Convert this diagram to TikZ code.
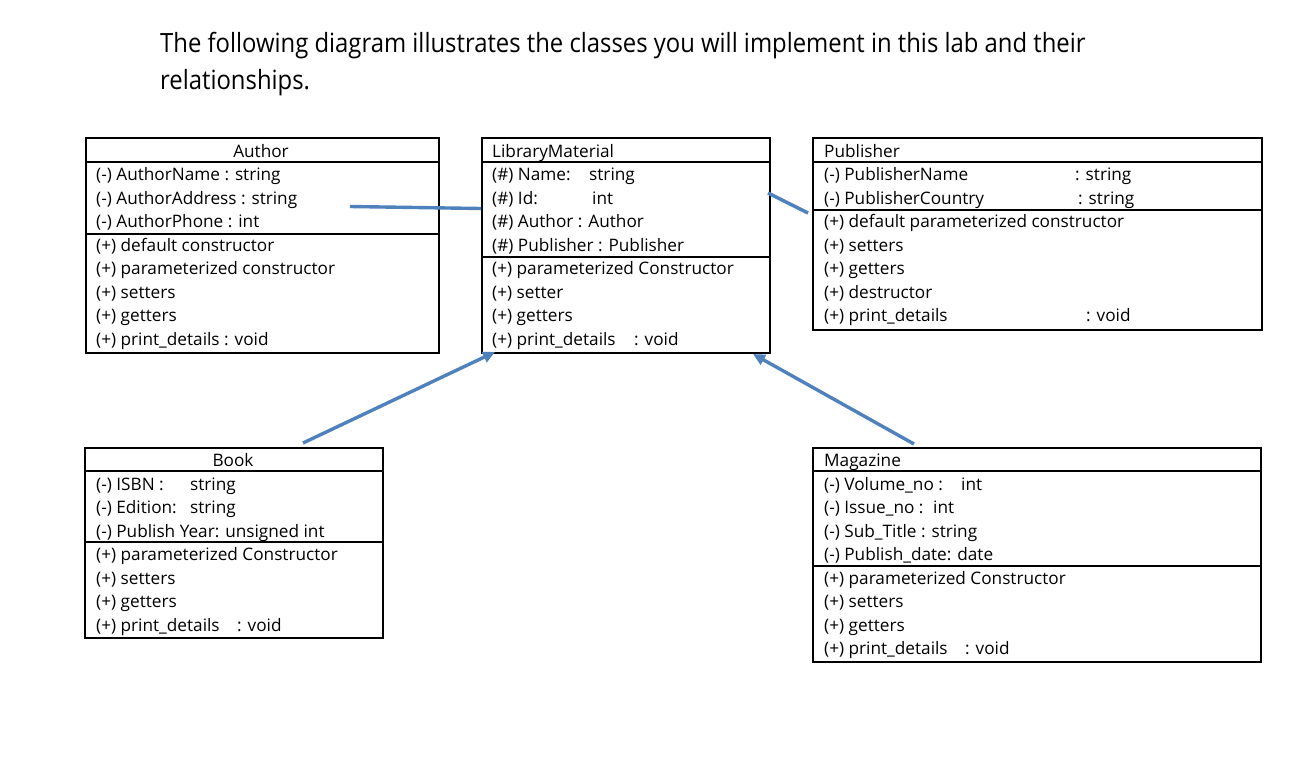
\documentclass[tikz,border=0pt]{standalone}
\usepackage{fontspec}
\setmainfont{Open Sans}
\newfontfamily\headfont[FakeStretch=0.90]{Open Sans}
\usetikzlibrary{arrows.meta}
\definecolor{linkblue}{RGB}{79,129,189}
\tikzset{
  classbox/.style={draw=black,line width=2.3pt,anchor=north west,inner sep=0pt},
  sepline/.style={draw=black,line width=2pt},
  txt/.style={anchor=base west,inner sep=0pt,font=\fontsize{17.2}{20}\selectfont},
  ttl/.style={anchor=base,inner sep=0pt,font=\fontsize{17.2}{20}\selectfont},
  link/.style={draw=linkblue,line width=3.4pt},
  linkarrow/.style={link,-{Triangle[length=12pt,width=11pt]}},
  head/.style={anchor=base west,inner sep=0pt,font=\headfont\fontsize{26.5}{30}\selectfont}
}
\begin{document}
\begin{tikzpicture}[x=1pt,y=-1pt]
\useasboundingbox[fill=white] (0,0) rectangle (1293,782);

% heading
\node[head] (h1) at (160,52) {The following diagram illustrates the classes you will implement in this lab and their};
\node[head] (h2) at (160,89) {relationships.};

% ---------- Author ----------
\node[classbox,minimum width=353pt,minimum height=215pt] (author) at (85,137) {};
\draw[sepline] (85,162) -- (438,162);
\draw[sepline] (85,234) -- (438,234);
\node[ttl] (authort) at (261,157) {Author};
\node[txt] (a1) at (96,180.5) {(-) AuthorName : string};
\node[txt] (a2) at (96,204) {(-) AuthorAddress : string};
\node[txt] (a3) at (96,227.5) {(-) AuthorPhone : int};
\node[txt] (a4) at (96,251) {(+) default constructor};
\node[txt] (a5) at (96,274.5) {(+) parameterized constructor};
\node[txt] (a6) at (96,298) {(+) setters};
\node[txt] (a7) at (96,321.5) {(+) getters};
\node[txt] (a8) at (96,345) {(+) print\_details : void};

% ---------- LibraryMaterial ----------
\node[classbox,minimum width=288pt,minimum height=215pt] (lm) at (481,137) {};
\draw[sepline] (481,162) -- (769,162);
\draw[sepline] (481,257) -- (769,257);
\node[txt] (lmt) at (492,157) {LibraryMaterial};
\node[txt] (l1) at (492,180.5) {(\#) Name:};
\node[txt] (l1b) at (589,180.5) {string};
\node[txt] (l2) at (492,204) {(\#) Id:};
\node[txt] (l2b) at (592,204) {int};
\node[txt] (l3) at (492,227.5) {(\#) Author : Author};
\node[txt] (l4) at (492,251) {(\#) Publisher : Publisher};
\node[txt] (l5) at (492,274.5) {(+) parameterized Constructor};
\node[txt] (l6) at (492,298) {(+) setter};
\node[txt] (l7) at (492,321.5) {(+) getters};
\node[txt] (l8) at (492,345) {(+) print\_details};
\node[txt] (l8b) at (634,345) {: void};

% ---------- Publisher ----------
\node[classbox,minimum width=449pt,minimum height=192pt] (pub) at (812,137) {};
\draw[sepline] (812,162) -- (1261,162);
\draw[sepline] (812,210) -- (1261,210);
\node[txt] (pt) at (824,157) {Publisher};
\node[txt] (p1) at (824,180.5) {(-) PublisherName};
\node[txt] (p1b) at (1075,180.5) {: string};
\node[txt] (p2) at (824,204) {(-) PublisherCountry};
\node[txt] (p2b) at (1078,204) {: string};
\node[txt] (p3) at (824,227.5) {(+) default parameterized constructor};
\node[txt] (p4) at (824,251) {(+) setters};
\node[txt] (p5) at (824,274.5) {(+) getters};
\node[txt] (p6) at (824,298) {(+) destructor};
\node[txt] (p7) at (824,321.5) {(+) print\_details};
\node[txt] (p7b) at (1086,321.5) {: void};

% ---------- Book ----------
\node[classbox,minimum width=298pt,minimum height=190pt] (book) at (84,447) {};
\draw[sepline] (84,471) -- (382,471);
\draw[sepline] (84,542) -- (382,542);
\node[ttl] (bt) at (233,466.5) {Book};
\node[txt] (b1) at (96,490) {(-) ISBN :};
\node[txt] (b1b) at (190,490) {string};
\node[txt] (b2) at (96,513.5) {(-) Edition:};
\node[txt] (b2b) at (190,513.5) {string};
\node[txt] (b3) at (96,537) {(-) Publish Year: unsigned int};
\node[txt] (b4) at (96,560.5) {(+) parameterized Constructor};
\node[txt] (b5) at (96,584) {(+) setters};
\node[txt] (b6) at (96,607.5) {(+) getters};
\node[txt] (b7) at (96,631) {(+) print\_details};
\node[txt] (b7b) at (237,631) {: void};

% ---------- Magazine ----------
\node[classbox,minimum width=448pt,minimum height=214pt] (mag) at (812,447) {};
\draw[sepline] (812,471) -- (1260,471);
\draw[sepline] (812,566) -- (1260,566);
\node[txt] (mt) at (824,466.5) {Magazine};
\node[txt] (m1) at (824,490) {(-) Volume\_no :};
\node[txt] (m1b) at (961,490) {int};
\node[txt] (m2) at (824,513.5) {(-) Issue\_no :};
\node[txt] (m2b) at (933,513.5) {int};
\node[txt] (m3) at (824,537) {(-) Sub\_Title : string};
\node[txt] (m4) at (824,560.5) {(-) Publish\_date: date};
\node[txt] (m5) at (824,584) {(+) parameterized Constructor};
\node[txt] (m6) at (824,607.5) {(+) setters};
\node[txt] (m7) at (824,631) {(+) getters};
\node[txt] (m8) at (824,654.5) {(+) print\_details};
\node[txt] (m8b) at (965,654.5) {: void};

% ---------- connectors ----------
\coordinate (c1s) at (350,206.5);
\coordinate (c1e) at (481,208.5);
\coordinate (c2s) at (768,193);
\coordinate (c2e) at (808,213);
\coordinate (c3s) at (303,443);
\coordinate (c3e) at (495,352);
\coordinate (c4s) at (914,444);
\coordinate (c4e) at (753,354);
\draw[link] (c1s) -- (c1e);
\draw[link] (c2s) -- (c2e);
\draw[linkarrow] (c3s) -- (c3e);
\draw[linkarrow] (c4s) -- (c4e);
\end{tikzpicture}
\end{document}
